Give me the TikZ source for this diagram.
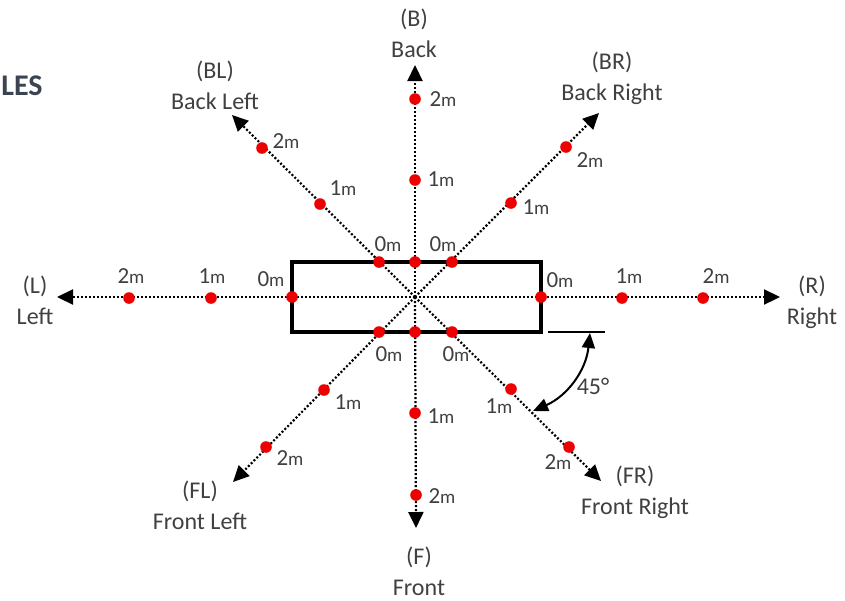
\documentclass[tikz,border=0pt]{standalone}
\usepackage{fontspec}
\setmainfont{Carlito}
\usetikzlibrary{arrows.meta}
\definecolor{ptred}{RGB}{238,0,0}
\definecolor{lblgray}{RGB}{64,64,64}
\definecolor{headslate}{RGB}{59,68,80}
\tikzset{
  axisline/.style={draw=black,line width=1.1pt,dash pattern=on 1pt off 1pt,
    -{Triangle[length=8pt,width=7.5pt]}},
  carline/.style={draw=black,line width=2pt},
  ptdot/.style={circle,fill=ptred,inner sep=0pt,minimum size=5.8pt},
  mlabel/.style={text=lblgray,inner sep=0pt,font=\fontsize{11.5}{11.5}\selectfont},
  dirlabel/.style={text=lblgray,inner sep=0pt,align=center,
    font=\fontsize{12}{15.5}\selectfont},
}
\newcommand{\mtext}[1]{#1{\fontsize{9.5}{9.5}\selectfont m}}
\newcommand{\mdot}[4]{%
  \node[ptdot] (#1) at (#2) {};
  \node[mlabel] (#1l) at (#3) {\mtext{#4}};}

\begin{document}
\begin{tikzpicture}[x=0.5pt,y=-0.5pt]
        \useasboundingbox (0,0) rectangle (845,600);
        \coordinate (O) at (415,297);
        \coordinate (tipB) at (415,65);
        \coordinate (tipF) at (416,528);
        \coordinate (tipL) at (57,297);
        \coordinate (tipR) at (780,297);
        \coordinate (tipBL) at (232,115);
        \coordinate (tipBR) at (599,113);
        \coordinate (tipFL) at (233,482);
        \coordinate (tipFR) at (601,481);
        \foreach \t in {B,F,L,R,BL,BR,FL,FR}
          \draw[axisline] (O) -- (tip\t);
        \draw[carline] (292,262) rectangle (541,332);
        \node[ptdot] (b0) at (415,262) {};
        \node[ptdot] (f0) at (415,332) {};
        \mdot{b1}{415,180}{441,179}{1}
        \mdot{b2}{415,99}{443,99}{2}
        \mdot{f1}{415,413}{441,416}{1}
        \mdot{f2}{416,495}{442,496}{2}
        \mdot{l0}{292,297}{271,279}{0}
        \mdot{l1}{211,298}{212,276}{1}
        \mdot{l2}{129,298}{131,276}{2}
        \mdot{r0}{541,297}{560,280}{0}
        \mdot{r1}{622,298}{629,276}{1}
        \mdot{r2}{703,298}{716,276}{2}
        \mdot{bl0}{379,262}{388,244}{0}
        \mdot{bl1}{320,204}{343,188}{1}
        \mdot{bl2}{262,148}{286,141}{2}
        \mdot{br0}{452,262}{443,244}{0}
        \mdot{br1}{511,203}{536,207}{1}
        \mdot{br2}{566,147}{590,160}{2}
        \mdot{fl0}{379,332}{389,354}{0}
        \mdot{fl1}{324,390}{348,402}{1}
        \mdot{fl2}{266,447}{290,458}{2}
        \mdot{fr0}{452,332}{456,354}{0}
        \mdot{fr1}{511,389}{499,406}{1}
        \mdot{fr2}{569,447}{558,462}{2}
        \node[dirlabel] (labB) at (414,33) {(B)\\Back};
        \node[dirlabel] (labBL) at (215,85) {(BL)\\Back Left};
        \node[dirlabel] (labBR) at (612,78) {(BR)\\Back Right};
        \node[dirlabel] (labL) at (35,300) {(L)\\Left};
        \node[dirlabel] (labR) at (812,302) {(R)\\Right};
        \node[dirlabel] (labFL) at (200,505) {(FL)\\Front Left};
        \node[dirlabel] (labFR) at (635,492) {(FR)\\Front Right};
        \node[dirlabel] (labF) at (419,571) {(F)\\Front};
        \node[text=headslate,font=\fontsize{15}{15}\selectfont\bfseries,
          anchor=west,inner sep=0pt] (title) at (1,86) {LES};
        \coordinate (refA) at (548,332);
        \coordinate (refB) at (605,332);
        \draw[black,line width=0.7pt] (refA) -- (refB);
        \coordinate (angA) at (590,333);
        \coordinate (angB) at (533,411);
        \draw[black,line width=1pt,{Triangle[length=7.5pt,width=6.5pt]}-{Triangle[length=7.5pt,width=6.5pt]}]
          (angA) to[bend left=30] (angB);
        \node[dirlabel] (ang) at (593,386) {45°};
      \end{tikzpicture}
\end{document}
